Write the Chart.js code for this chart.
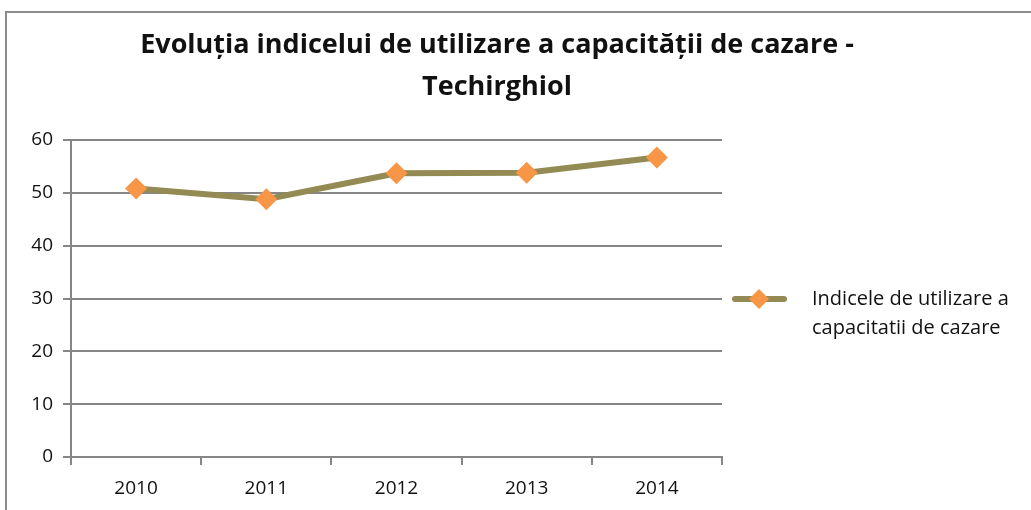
<!DOCTYPE html>
<html>
<head>
<meta charset="utf-8">
<script src="https://cdn.jsdelivr.net/npm/chart.js@4"></script>
<style>
    html, body { margin: 0; padding: 0; background: #fff; overflow: hidden; }
    #frame {
        position: absolute; left: 5px; top: 11px; width: 1100px; height: 600px;
        border-top: 2px solid #8c8c8c; border-left: 2px solid #8c8c8c;
    }
    #wrap { position: absolute; left: 0; top: 0; width: 1031px; height: 510px; }
</style>
</head>
<body>
<div id="frame"></div>
<div id="wrap"><canvas id="chartCanvas"></canvas></div>
<script>
const years = ["2010", "2011", "2012", "2013", "2014"];
const indexValues = [50.8, 48.8, 53.7, 53.8, 56.7];
const seriesName = ["Indicele de utilizare a", "capacitatii de cazare"];
const chartTitle = ["Evoluția indicelui de utilizare a capacității de cazare -", "Techirghiol"];

const lineColor = "#948a54";
const markerColor = "#f79646";
const gridColor = "#868686";
const fontFamily = "'Open Sans', Lato, sans-serif";

// title and legend drawn by hand: the title is centred on the whole frame
// and the legend label wraps onto two lines
const sideText = {
    id: "sideText",
    afterDraw(chart) {
        const c = chart.ctx;
        c.save();
        c.fillStyle = "#111";
        c.textAlign = "center";
        c.textBaseline = "middle";
        c.font = "bold 27px " + fontFamily;
        c.fillText(chartTitle[0], 497, 45);
        c.fillText(chartTitle[1], 497, 87);

        const y = 299;
        c.strokeStyle = lineColor;
        c.lineWidth = 6;
        c.lineCap = "round";
        c.beginPath();
        c.moveTo(735, y);
        c.lineTo(784, y);
        c.stroke();
        c.fillStyle = markerColor;
        c.beginPath();
        c.moveTo(759, y - 10);
        c.lineTo(769, y);
        c.lineTo(759, y + 10);
        c.lineTo(749, y);
        c.closePath();
        c.fill();
        c.fillStyle = "#111";
        c.textAlign = "left";
        c.font = "20px " + fontFamily;
        c.fillText(seriesName[0], 812, y);
        c.fillText(seriesName[1], 812, y + 29);
        c.restore();
    }
};

new Chart(document.getElementById("chartCanvas"), {
    type: "line",
    data: {
        labels: years,
        datasets: [{
            label: seriesName.join(" "),
            data: indexValues,
            borderColor: lineColor,
            borderWidth: 6,
            tension: 0,
            pointStyle: "rectRot",
            pointRadius: 11,
            pointHoverRadius: 11,
            pointBackgroundColor: markerColor,
            pointBorderColor: markerColor,
            pointBorderWidth: 0
        }]
    },
    options: {
        responsive: true,
        maintainAspectRatio: false,
        animation: false,
        layout: { padding: { left: 0, right: 309, top: 140, bottom: 0 } },
        plugins: {
            legend: { display: false },
            tooltip: { enabled: false },
            title: { display: false }
        },
        scales: {
            x: {
                offset: true,
                afterFit: (scale) => { scale.height = 53; },
                grid: {
                    offset: true,
                    drawOnChartArea: false,
                    drawTicks: true,
                    tickLength: 8,
                    color: gridColor,
                    lineWidth: 2
                },
                border: { display: true, color: gridColor, width: 2 },
                ticks: {
                    color: "#111",
                    padding: 12,
                    font: { family: fontFamily, size: 19 }
                }
            },
            y: {
                min: 0,
                max: 60,
                afterFit: (scale) => { scale.width = 71; },
                grid: {
                    color: gridColor,
                    lineWidth: 2,
                    tickLength: 8
                },
                border: { display: true, color: gridColor, width: 2 },
                ticks: {
                    stepSize: 10,
                    color: "#111",
                    padding: 10,
                    font: { family: fontFamily, size: 19 }
                }
            }
        }
    },
    plugins: [sideText]
});
</script>
</body>
</html>
